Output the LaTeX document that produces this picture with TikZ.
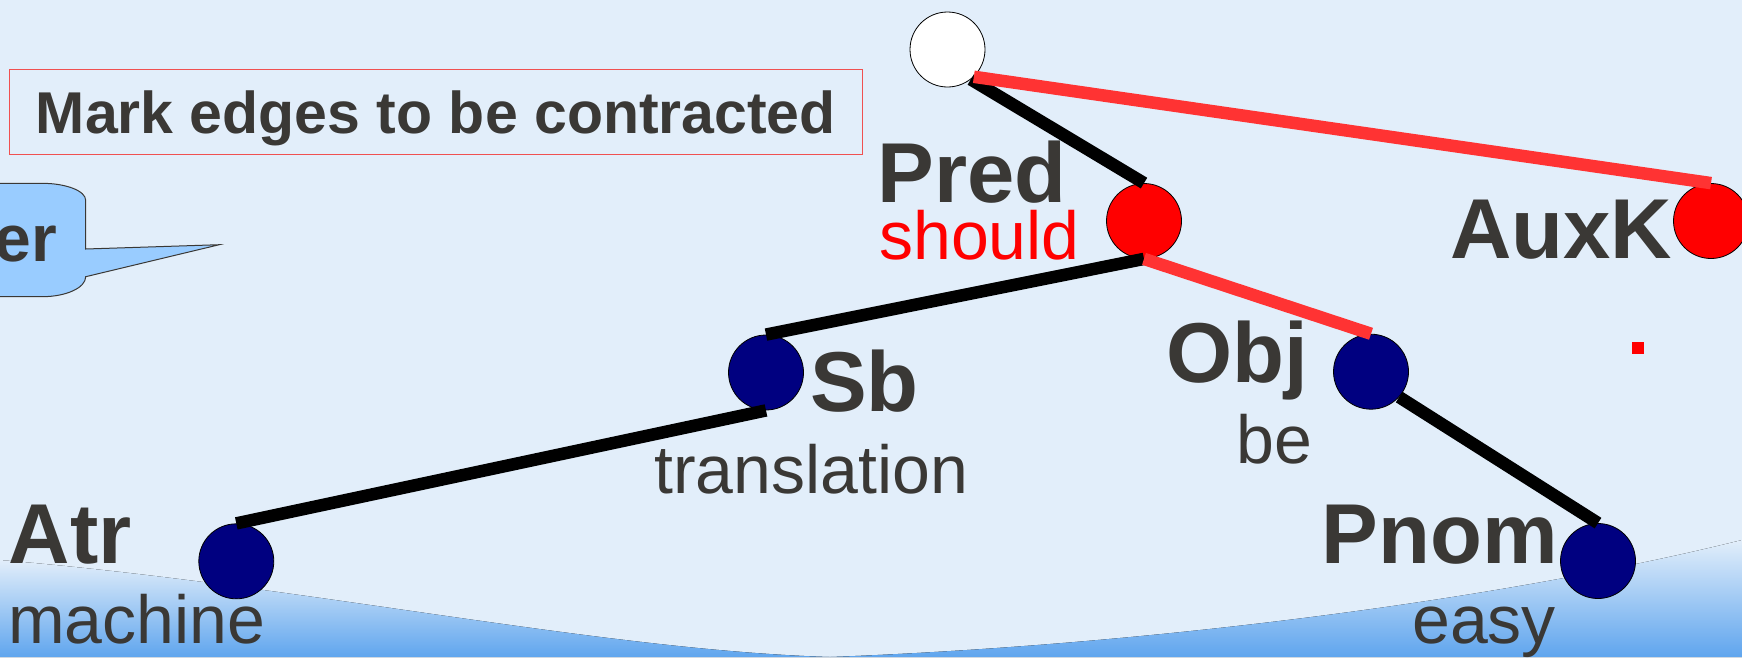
\documentclass[tikz,border=0pt]{standalone}
\usepackage{fontspec}
\setmainfont{Liberation Sans}
\usetikzlibrary{positioning}
\definecolor{bgblue}{RGB}{226,238,250}
\definecolor{waveblue}{RGB}{95,165,238}
\definecolor{textgrey}{RGB}{58,56,53}
\definecolor{edgered}{RGB}{255,51,51}
\definecolor{nodeblue}{RGB}{0,0,128}
\definecolor{callblue}{RGB}{153,204,255}
\definecolor{boxred}{RGB}{240,80,80}

\begin{document}
\begin{tikzpicture}[x=1pt,y=-1pt,
  vtx/.style={circle,draw=black,line width=0.8pt,minimum size=75pt,inner sep=0pt},
  func/.style={font=\fontsize{85}{85}\selectfont\bfseries,text=textgrey,inner sep=0pt,anchor=base west},
  word/.style={font=\fontsize{68}{68}\selectfont,text=textgrey,inner sep=0pt,anchor=base west},
  dep/.style={line width=12.5pt,black},
  contract/.style={line width=12.5pt,edgered}]
  \useasboundingbox (0,0) rectangle (1742,657);
  \clip (0,0) rectangle (1742,657);
  \fill[bgblue] (0,0) rectangle (1742,657);
  \fill[top color=bgblue,bottom color=waveblue] (0,560) .. controls (300,585) and (600,650) .. (830,657) -- (0,657) -- cycle;
  \fill[top color=bgblue,bottom color=waveblue] (830,657) .. controls (1150,645) and (1500,600) .. (1742,540) -- (1742,657) -- cycle;

  \draw[boxred,line width=1.2pt] (9.8,69.7) rectangle (862.8,154.7);
  \node (title) [anchor=base west,inner sep=0pt,text=textgrey,font=\fontsize{59}{59}\selectfont\bfseries] at (35.7,133.3) {Mark edges to be contracted};

  \draw[fill=callblue,draw=textgrey,line width=1pt] (-60,183.3) -- (42,183.3) arc[start angle=-90,end angle=0,x radius=43.7,y radius=17] -- (85.7,249) -- (219.3,244.7) -- (85.7,276.7) arc[start angle=0,end angle=90,x radius=43.7,y radius=20] -- (-60,296.7) -- cycle;
  \node (callout) [anchor=base east,inner sep=0pt,text=textgrey,font=\fontsize{66}{66}\selectfont\bfseries] at (57,261.7) {er};

  \node (root) [vtx,fill=white] at (947.5,49.5) {};
  \node (pred) [vtx,fill=red] at (1144,221) {};
  \node (auxk) [vtx,fill=red] at (1711,221) {};
  \node (sb) [vtx,fill=nodeblue] at (766,372.5) {};
  \node (obj) [vtx,fill=nodeblue] at (1371,371.7) {};
  \node (atr) [vtx,fill=nodeblue] at (236.3,561.3) {};
  \node (pnom) [vtx,fill=nodeblue] at (1598,561) {};

  \node (predlab) [func] at (877.6,202.7) {Pred};
  \node (predword) [word,text=red] at (879,259.3) {should};
  \node (auxklab) [func] at (1450,258.3) {AuxK};
  \node (sblab) [func] at (810,411) {Sb};
  \node (sbword) [word] at (654,493.3) {translation};
  \node (objlab) [func] at (1166,382.7) {Obj};
  \node (objword) [word] at (1236,463) {be};
  \node (atrlab) [func] at (8.6,563.3) {Atr};
  \node (atrword) [word] at (8,643) {machine};
  \node (pnomlab) [func] at (1321.6,563) {Pnom};
  \node (pnomword) [word] at (1412,643) {easy};

  \draw[dep] (root.-52) -- (pred.north);
  \draw[contract] (root.-46) -- (auxk.north);
  \draw[dep] (pred.south) -- (sb.north);
  \draw[contract] (pred.south) -- (obj.north);
  \draw[dep] (sb.south) -- (atr.north);
  \draw[dep] (obj.-42) -- (pnom.north);

  \fill[red] (1632,342) rectangle (1643.7,353.7);
\end{tikzpicture}
\end{document}
